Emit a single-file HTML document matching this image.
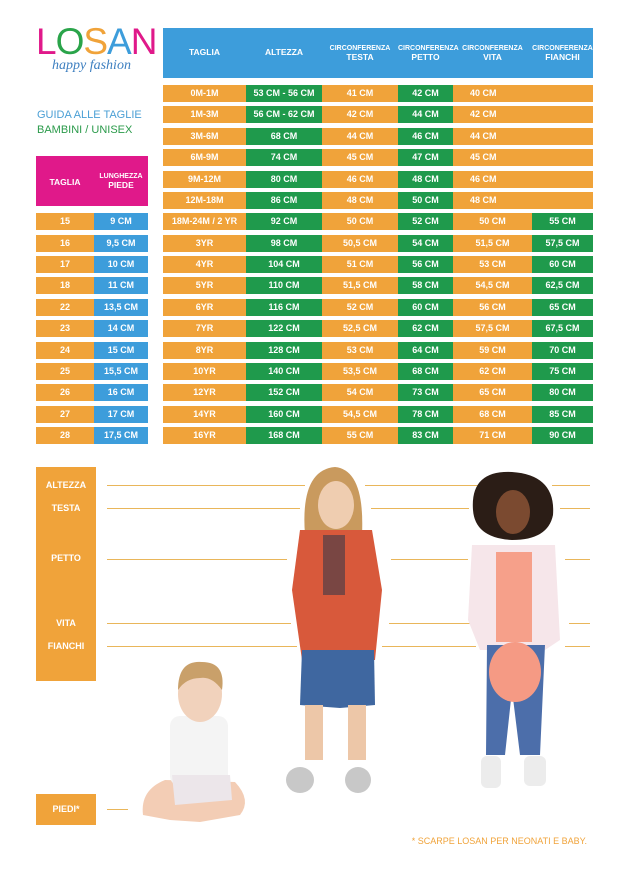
<!DOCTYPE html>
<html><head><meta charset="utf-8"><style>
body{margin:0;width:623px;height:874px;background:#fff;position:relative;overflow:hidden;font-family:"Liberation Sans",sans-serif;font-weight:bold}
.a{position:absolute}
.c{position:absolute;height:17px;line-height:17px;text-align:center;color:#fff;font-size:9px}
.o{background:#f0a33a}.g{background:#1f9a4c}.b{background:#3d9ddb}
.hd{color:#fff;text-align:center;font-size:7px;line-height:9px}
.hd b{font-size:8.5px}
.ln{position:absolute;height:1px;background:#e9b65a}
.lb{position:absolute;left:36px;width:60px;text-align:center;color:#fff;font-size:9px}
</style></head><body>
<div class="a" style="left:36px;top:22px;font-size:37px;font-weight:normal;letter-spacing:-1px;line-height:40px"><span style="color:#e0198a">L</span><span style="color:#2aa44a">O</span><span style="color:#f0a33a">S</span><span style="color:#3d9ddb">A</span><span style="color:#e0198a">N</span></div>
<div class="a" style="left:52px;top:58px;font-family:'Liberation Serif',serif;font-style:italic;font-weight:normal;color:#3d7fc0;font-size:14px">happy fashion</div>
<div class="a" style="left:37px;top:109px;color:#4a9fd5;font-size:11px;font-weight:normal">GUIDA ALLE TAGLIE</div>
<div class="a" style="left:37px;top:124px;color:#2a9a4a;font-size:11px;font-weight:normal">BAMBINI / UNISEX</div>

<div class="a b" style="left:163px;top:28px;width:430px;height:50px"></div>
<div class="a hd" style="left:163px;top:48px;width:83px"><b>TAGLIA</b></div>
<div class="a hd" style="left:246px;top:48px;width:76px"><b>ALTEZZA</b></div>
<div class="a hd" style="left:322px;top:44px;width:76px">CIRCONFERENZA<br><b>TESTA</b></div>
<div class="a hd" style="left:398px;top:44px;width:55px">CIRCONFERENZA<br><b>PETTO</b></div>
<div class="a hd" style="left:453px;top:44px;width:79px">CIRCONFERENZA<br><b>VITA</b></div>
<div class="a hd" style="left:532px;top:44px;width:61px">CIRCONFERENZA<br><b>FIANCHI</b></div>

<div class="a" style="left:36px;top:156px;width:112px;height:50px;background:#e0198a"></div>
<div class="a hd" style="left:36px;top:178px;width:58px"><b>TAGLIA</b></div>
<div class="a hd" style="left:94px;top:172px;width:54px">LUNGHEZZA<br><b>PIEDE</b></div>

<div class="a" style="left:163px;top:85px;width:430px" id="t"></div>
<div class="a" style="left:163px;top:85px">
<div class="c o" style="top:0;left:0;width:83px">0M-1M</div><div class="c g" style="top:0;left:83px;width:76px">53 CM - 56 CM</div><div class="c o" style="top:0;left:159px;width:76px">41 CM</div><div class="c g" style="top:0;left:235px;width:55px">42 CM</div><div class="c o" style="top:0;left:290px;width:140px;text-align:left;text-indent:17px">40 CM</div>
<div class="c o" style="top:21.4px;left:0;width:83px">1M-3M</div><div class="c g" style="top:21.4px;left:83px;width:76px">56 CM - 62 CM</div><div class="c o" style="top:21.4px;left:159px;width:76px">42 CM</div><div class="c g" style="top:21.4px;left:235px;width:55px">44 CM</div><div class="c o" style="top:21.4px;left:290px;width:140px;text-align:left;text-indent:17px">42 CM</div>
<div class="c o" style="top:42.75px;left:0;width:83px">3M-6M</div><div class="c g" style="top:42.75px;left:83px;width:76px">68 CM</div><div class="c o" style="top:42.75px;left:159px;width:76px">44 CM</div><div class="c g" style="top:42.75px;left:235px;width:55px">46 CM</div><div class="c o" style="top:42.75px;left:290px;width:140px;text-align:left;text-indent:17px">44 CM</div>
<div class="c o" style="top:64.1px;left:0;width:83px">6M-9M</div><div class="c g" style="top:64.1px;left:83px;width:76px">74 CM</div><div class="c o" style="top:64.1px;left:159px;width:76px">45 CM</div><div class="c g" style="top:64.1px;left:235px;width:55px">47 CM</div><div class="c o" style="top:64.1px;left:290px;width:140px;text-align:left;text-indent:17px">45 CM</div>
<div class="c o" style="top:85.5px;left:0;width:83px">9M-12M</div><div class="c g" style="top:85.5px;left:83px;width:76px">80 CM</div><div class="c o" style="top:85.5px;left:159px;width:76px">46 CM</div><div class="c g" style="top:85.5px;left:235px;width:55px">48 CM</div><div class="c o" style="top:85.5px;left:290px;width:140px;text-align:left;text-indent:17px">46 CM</div>
<div class="c o" style="top:106.9px;left:0;width:83px">12M-18M</div><div class="c g" style="top:106.9px;left:83px;width:76px">86 CM</div><div class="c o" style="top:106.9px;left:159px;width:76px">48 CM</div><div class="c g" style="top:106.9px;left:235px;width:55px">50 CM</div><div class="c o" style="top:106.9px;left:290px;width:140px;text-align:left;text-indent:17px">48 CM</div>
<div class="c o" style="top:128.25px;left:0;width:83px">18M-24M / 2 YR</div><div class="c g" style="top:128.25px;left:83px;width:76px">92 CM</div><div class="c o" style="top:128.25px;left:159px;width:76px">50 CM</div><div class="c g" style="top:128.25px;left:235px;width:55px">52 CM</div><div class="c o" style="top:128.25px;left:290px;width:79px">50 CM</div><div class="c g" style="top:128.25px;left:369px;width:61px">55 CM</div>
<div class="c o" style="top:149.6px;left:0;width:83px">3YR</div><div class="c g" style="top:149.6px;left:83px;width:76px">98 CM</div><div class="c o" style="top:149.6px;left:159px;width:76px">50,5 CM</div><div class="c g" style="top:149.6px;left:235px;width:55px">54 CM</div><div class="c o" style="top:149.6px;left:290px;width:79px">51,5 CM</div><div class="c g" style="top:149.6px;left:369px;width:61px">57,5 CM</div>
<div class="c o" style="top:171px;left:0;width:83px">4YR</div><div class="c g" style="top:171px;left:83px;width:76px">104 CM</div><div class="c o" style="top:171px;left:159px;width:76px">51 CM</div><div class="c g" style="top:171px;left:235px;width:55px">56 CM</div><div class="c o" style="top:171px;left:290px;width:79px">53 CM</div><div class="c g" style="top:171px;left:369px;width:61px">60 CM</div>
<div class="c o" style="top:192.4px;left:0;width:83px">5YR</div><div class="c g" style="top:192.4px;left:83px;width:76px">110 CM</div><div class="c o" style="top:192.4px;left:159px;width:76px">51,5 CM</div><div class="c g" style="top:192.4px;left:235px;width:55px">58 CM</div><div class="c o" style="top:192.4px;left:290px;width:79px">54,5 CM</div><div class="c g" style="top:192.4px;left:369px;width:61px">62,5 CM</div>
<div class="c o" style="top:213.75px;left:0;width:83px">6YR</div><div class="c g" style="top:213.75px;left:83px;width:76px">116 CM</div><div class="c o" style="top:213.75px;left:159px;width:76px">52 CM</div><div class="c g" style="top:213.75px;left:235px;width:55px">60 CM</div><div class="c o" style="top:213.75px;left:290px;width:79px">56 CM</div><div class="c g" style="top:213.75px;left:369px;width:61px">65 CM</div>
<div class="c o" style="top:235.1px;left:0;width:83px">7YR</div><div class="c g" style="top:235.1px;left:83px;width:76px">122 CM</div><div class="c o" style="top:235.1px;left:159px;width:76px">52,5 CM</div><div class="c g" style="top:235.1px;left:235px;width:55px">62 CM</div><div class="c o" style="top:235.1px;left:290px;width:79px">57,5 CM</div><div class="c g" style="top:235.1px;left:369px;width:61px">67,5 CM</div>
<div class="c o" style="top:256.5px;left:0;width:83px">8YR</div><div class="c g" style="top:256.5px;left:83px;width:76px">128 CM</div><div class="c o" style="top:256.5px;left:159px;width:76px">53 CM</div><div class="c g" style="top:256.5px;left:235px;width:55px">64 CM</div><div class="c o" style="top:256.5px;left:290px;width:79px">59 CM</div><div class="c g" style="top:256.5px;left:369px;width:61px">70 CM</div>
<div class="c o" style="top:277.9px;left:0;width:83px">10YR</div><div class="c g" style="top:277.9px;left:83px;width:76px">140 CM</div><div class="c o" style="top:277.9px;left:159px;width:76px">53,5 CM</div><div class="c g" style="top:277.9px;left:235px;width:55px">68 CM</div><div class="c o" style="top:277.9px;left:290px;width:79px">62 CM</div><div class="c g" style="top:277.9px;left:369px;width:61px">75 CM</div>
<div class="c o" style="top:299.25px;left:0;width:83px">12YR</div><div class="c g" style="top:299.25px;left:83px;width:76px">152 CM</div><div class="c o" style="top:299.25px;left:159px;width:76px">54 CM</div><div class="c g" style="top:299.25px;left:235px;width:55px">73 CM</div><div class="c o" style="top:299.25px;left:290px;width:79px">65 CM</div><div class="c g" style="top:299.25px;left:369px;width:61px">80 CM</div>
<div class="c o" style="top:320.6px;left:0;width:83px">14YR</div><div class="c g" style="top:320.6px;left:83px;width:76px">160 CM</div><div class="c o" style="top:320.6px;left:159px;width:76px">54,5 CM</div><div class="c g" style="top:320.6px;left:235px;width:55px">78 CM</div><div class="c o" style="top:320.6px;left:290px;width:79px">68 CM</div><div class="c g" style="top:320.6px;left:369px;width:61px">85 CM</div>
<div class="c o" style="top:342px;left:0;width:83px">16YR</div><div class="c g" style="top:342px;left:83px;width:76px">168 CM</div><div class="c o" style="top:342px;left:159px;width:76px">55 CM</div><div class="c g" style="top:342px;left:235px;width:55px">83 CM</div><div class="c o" style="top:342px;left:290px;width:79px">71 CM</div><div class="c g" style="top:342px;left:369px;width:61px">90 CM</div>
</div>

<div class="a" style="left:36px;top:213.25px">
<div class="c o" style="top:0;left:0;width:58px">15</div><div class="c b" style="top:0;left:58px;width:54px">9 CM</div>
<div class="c o" style="top:21.4px;left:0;width:58px">16</div><div class="c b" style="top:21.4px;left:58px;width:54px">9,5 CM</div>
<div class="c o" style="top:42.75px;left:0;width:58px">17</div><div class="c b" style="top:42.75px;left:58px;width:54px">10 CM</div>
<div class="c o" style="top:64.1px;left:0;width:58px">18</div><div class="c b" style="top:64.1px;left:58px;width:54px">11 CM</div>
<div class="c o" style="top:85.5px;left:0;width:58px">22</div><div class="c b" style="top:85.5px;left:58px;width:54px">13,5 CM</div>
<div class="c o" style="top:106.9px;left:0;width:58px">23</div><div class="c b" style="top:106.9px;left:58px;width:54px">14 CM</div>
<div class="c o" style="top:128.25px;left:0;width:58px">24</div><div class="c b" style="top:128.25px;left:58px;width:54px">15 CM</div>
<div class="c o" style="top:149.6px;left:0;width:58px">25</div><div class="c b" style="top:149.6px;left:58px;width:54px">15,5 CM</div>
<div class="c o" style="top:171px;left:0;width:58px">26</div><div class="c b" style="top:171px;left:58px;width:54px">16 CM</div>
<div class="c o" style="top:192.4px;left:0;width:58px">27</div><div class="c b" style="top:192.4px;left:58px;width:54px">17 CM</div>
<div class="c o" style="top:213.75px;left:0;width:58px">28</div><div class="c b" style="top:213.75px;left:58px;width:54px">17,5 CM</div>
</div>

<div class="a o" style="left:36px;top:467px;width:60px;height:214px"></div>
<div class="lb" style="top:480px">ALTEZZA</div>
<div class="lb" style="top:503px">TESTA</div>
<div class="lb" style="top:553px">PETTO</div>
<div class="lb" style="top:618px">VITA</div>
<div class="lb" style="top:641px">FIANCHI</div>
<div class="a o" style="left:36px;top:794px;width:60px;height:31px"></div>
<div class="lb" style="top:804px">PIEDI*</div>

<div class="ln" style="left:107px;width:198px;top:485px"></div><div class="ln" style="left:365px;width:113px;top:485px"></div><div class="ln" style="left:552px;width:38px;top:485px"></div>
<div class="ln" style="left:107px;width:193px;top:508px"></div><div class="ln" style="left:371px;width:98px;top:508px"></div><div class="ln" style="left:560px;width:30px;top:508px"></div>
<div class="ln" style="left:107px;width:180px;top:559px"></div><div class="ln" style="left:391px;width:77px;top:559px"></div><div class="ln" style="left:565px;width:25px;top:559px"></div>
<div class="ln" style="left:107px;width:184px;top:623px"></div><div class="ln" style="left:389px;width:88px;top:623px"></div><div class="ln" style="left:569px;width:21px;top:623px"></div>
<div class="ln" style="left:107px;width:190px;top:646px"></div><div class="ln" style="left:382px;width:94px;top:646px"></div><div class="ln" style="left:565px;width:25px;top:646px"></div>
<div class="ln" style="left:107px;width:21px;top:809px"></div>

<svg class="a" style="left:0;top:0" width="623" height="874">
<!-- baby -->
<path d="M143 815 Q140 790 165 780 L235 782 Q252 800 240 815 L200 822 L170 820 Z" fill="#f3cdb5"/>
<rect x="170" y="716" width="58" height="70" rx="10" fill="#f4f4f4"/>
<path d="M172 775 L230 775 L232 800 L175 805 Z" fill="#ece6ea"/>
<ellipse cx="200" cy="694" rx="22" ry="28" fill="#f1d2bc"/>
<path d="M178 690 Q178 660 202 662 Q226 662 222 690 Q212 676 200 678 Q186 678 178 690Z" fill="#c9a06a"/>
<!-- boy -->
<path d="M305 535 Q300 470 335 467 Q365 470 362 535 Z" fill="#c99a5e"/>
<ellipse cx="336" cy="505" rx="18" ry="24" fill="#efcdb0"/>
<path d="M300 530 L372 530 L382 590 L375 660 L302 660 L292 590 Z" fill="#d8593b"/>
<rect x="323" y="535" width="22" height="60" fill="#3a3a4a" opacity=".6"/>
<path d="M302 650 L374 650 L375 705 L340 708 L300 705 Z" fill="#3f67a0"/>
<rect x="305" y="705" width="18" height="55" fill="#edc7a8"/><rect x="348" y="705" width="18" height="55" fill="#edc7a8"/>
<ellipse cx="300" cy="780" rx="14" ry="13" fill="#c8c8c8"/><ellipse cx="358" cy="780" rx="13" ry="13" fill="#c8c8c8"/>
<!-- girl -->
<path d="M473 510 Q470 470 512 472 Q556 475 553 515 Q548 540 512 540 Q475 538 473 510Z" fill="#2b1d16"/>
<ellipse cx="513" cy="512" rx="17" ry="22" fill="#7b4a30"/>
<path d="M472 545 L555 545 L560 640 L545 650 L480 650 L468 620 Z" fill="#f6e6ea"/>
<rect x="496" y="552" width="36" height="90" fill="#f6a08a"/>
<path d="M487 645 L545 645 L540 755 L520 755 L512 690 L505 755 L486 755 Z" fill="#4c6eaa"/>
<ellipse cx="515" cy="672" rx="26" ry="30" fill="#f59a84"/>
<rect x="481" y="756" width="20" height="32" rx="6" fill="#ececec"/><rect x="524" y="756" width="22" height="30" rx="6" fill="#ececec"/>
</svg>

<div class="a" style="right:36px;top:836px;color:#f0a33a;font-size:9px;font-weight:normal">* SCARPE LOSAN PER NEONATI E BABY.</div>
</body></html>
